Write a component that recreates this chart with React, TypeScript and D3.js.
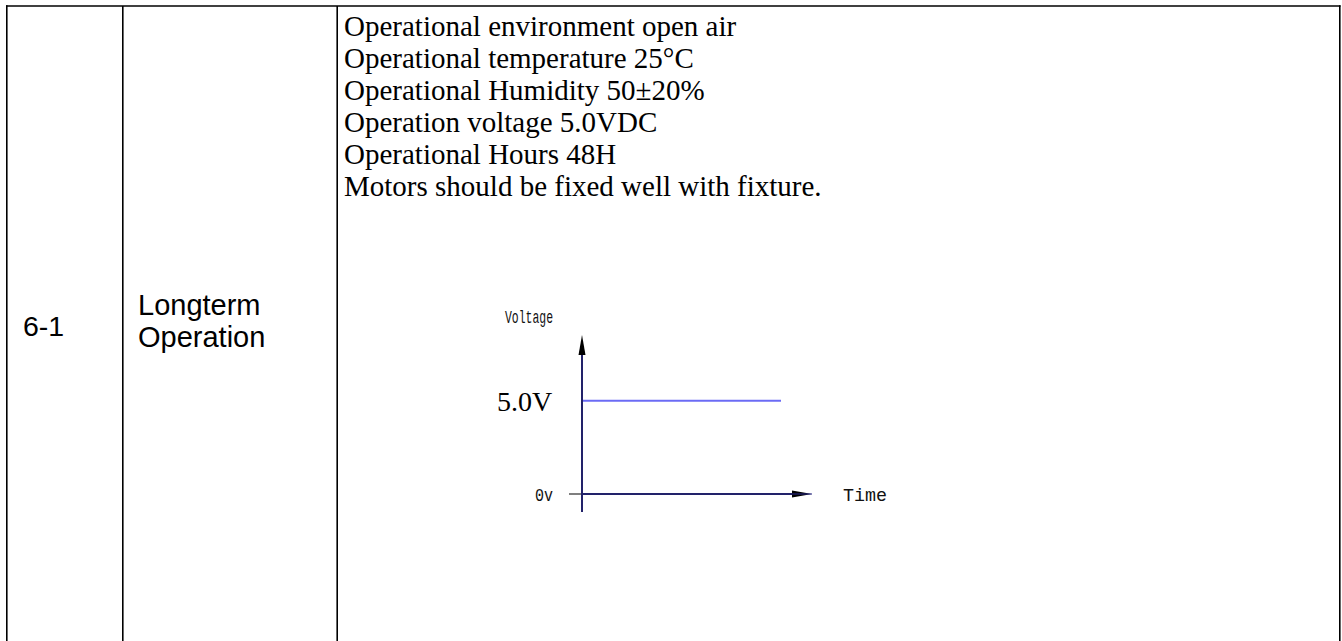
import React from "react";
import * as d3 from "d3";

const rowNumber = "6-1";
const itemName = ["Longterm", "Operation"];
const conditionLines = [
  "Operational environment open air",
  "Operational temperature 25°C",
  "Operational Humidity 50±20%",
  "Operation voltage 5.0VDC",
  "Operational Hours 48H",
  "Motors should be fixed well with fixture.",
];
const timePoints = [0, 10];
const voltageValues = [5.0, 5.0];
const yTickValues = [0, 5];
const yTickLabels = ["0v", "5.0V"];
const yAxisTitle = "Voltage";
const xAxisTitle = "Time";

const W = 1342;
const H = 641;

export default function App() {
  const x = d3.scaleLinear().domain([0, 10]).range([582, 781]);
  const y = d3.scaleLinear().domain([0, 5]).range([494, 400.7]);
  const line = d3
    .line<number>()
    .x((_, i) => x(timePoints[i]))
    .y((d) => y(d));

  const axisX0 = x(0);
  const axisY0 = y(0);
  const yTop = 335;
  const yBottom = 512;
  const xLeft = 569;
  const xRight = 812;

  const serif = "'Liberation Serif', 'Times New Roman', serif";
  const sans = "'Liberation Sans', Arial, sans-serif";
  const mono = "'Liberation Mono', 'DejaVu Sans Mono', monospace";
  const navy = "#22226a";

  return (
    <svg
      width={W}
      height={H}
      style={{ position: "absolute", left: 0, top: 0, background: "#fff" }}
    >
      {/* table borders */}
      <g stroke="#000" strokeWidth={1.6} fill="none">
        <line x1={6} y1={6} x2={1340.5} y2={6} />
        <line x1={6.8} y1={5.2} x2={6.8} y2={H} />
        <line x1={122.8} y1={6} x2={122.8} y2={H} />
        <line x1={337.2} y1={6} x2={337.2} y2={H} />
        <line x1={1339.8} y1={5.2} x2={1339.8} y2={H} />
      </g>

      <text x={23} y={336} fontFamily={sans} fontSize={28.5} fill="#000">
        {rowNumber}
      </text>
      {itemName.map((t, i) => (
        <text key={t} x={138} y={315 + i * 32} fontFamily={sans} fontSize={29} fill="#000">
          {t}
        </text>
      ))}

      {conditionLines.map((t, i) => (
        <text key={t} x={344} y={35.5 + i * 32} fontFamily={serif} fontSize={29} fill="#000">
          {t}
        </text>
      ))}

      {/* chart */}
      <text x={505} y={323} fontFamily={mono} fontSize={19} fill="#111" textLength={48} lengthAdjust="spacingAndGlyphs">
        {yAxisTitle}
      </text>
      <text x={843} y={501} fontFamily={mono} fontSize={19} fill="#111" textLength={44} lengthAdjust="spacingAndGlyphs">
        {xAxisTitle}
      </text>
      {yTickValues.map((v, i) =>
        v === 0 ? (
          <text key={v} x={535} y={y(v) + 7} fontFamily={mono} fontSize={19} fill="#111" textLength={18} lengthAdjust="spacingAndGlyphs">
            {yTickLabels[i]}
          </text>
        ) : (
          <text key={v} x={497} y={y(v) + 10} fontFamily={serif} fontSize={28} fill="#000">
            {yTickLabels[i]}
          </text>
        )
      )}

      <path d={line(voltageValues) || ""} stroke="#6b6bf5" strokeWidth={2} fill="none" />

      {/* x axis */}
      <line x1={xLeft} y1={axisY0} x2={axisX0} y2={axisY0} stroke="#555" strokeWidth={1.5} />
      <line x1={axisX0} y1={axisY0} x2={xRight - 18} y2={axisY0} stroke={navy} strokeWidth={2} />
      <path
        d={`M${xRight},${axisY0} L${xRight - 20},${axisY0 - 3.5} L${xRight - 20},${axisY0 + 3.5} Z`}
        fill="#000"
      />
      <line x1={xRight - 20} y1={axisY0} x2={xRight} y2={axisY0} stroke="#2a2a90" strokeWidth={1} />

      {/* y axis */}
      <line x1={axisX0} y1={yTop + 18} x2={axisX0} y2={yBottom} stroke={navy} strokeWidth={2} />
      <path
        d={`M${axisX0},${yTop} L${axisX0 - 3.5},${yTop + 20} L${axisX0 + 3.5},${yTop + 20} Z`}
        fill="#000"
      />
    </svg>
  );
}
